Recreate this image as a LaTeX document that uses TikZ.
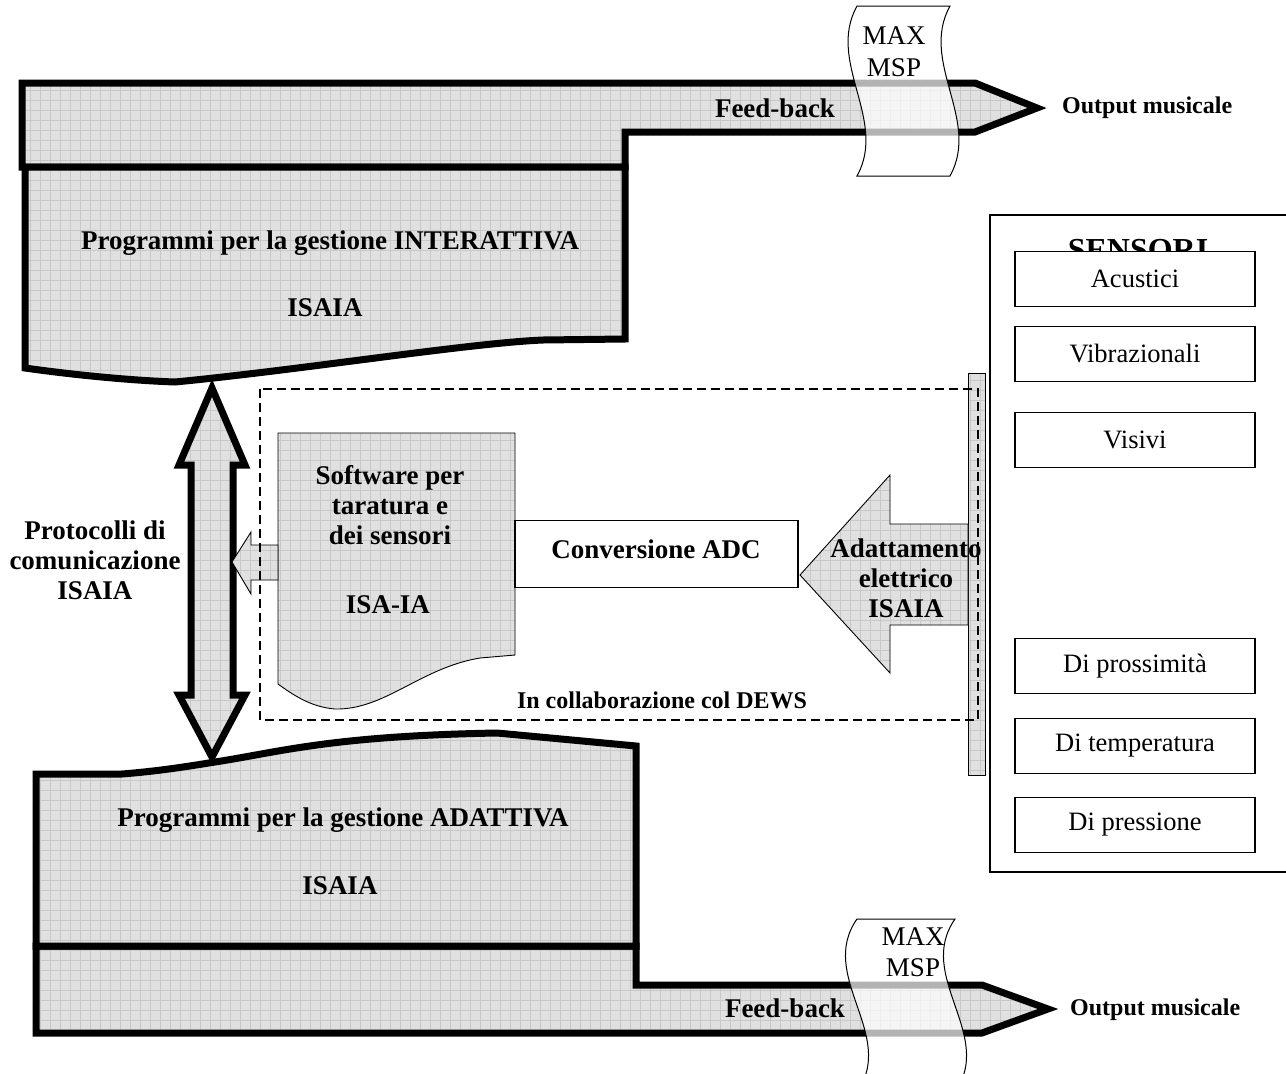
\documentclass[tikz,border=0pt]{standalone}
\usepackage{fontspec}
\setmainfont{Liberation Serif}
\definecolor{gfill}{RGB}{224,224,224}
\definecolor{gridln}{RGB}{200,200,200}
\begin{document}
\begin{tikzpicture}[x=1pt,y=-1pt,
  gridfill/.style={fill=gfill, path picture={\draw[gridln,line width=0.8pt] ([shift={(-10pt,-10pt)}]path picture bounding box.south west) grid[step=10pt] ([shift={(10pt,10pt)}]path picture bounding box.north east);}},
  thickln/.style={draw=black, line width=7pt, line join=miter, miter limit=10},
  thinln/.style={draw=black, line width=0.9pt},
  blbl/.style={font=\fontsize{27}{30}\selectfont\bfseries, align=center, inner sep=0pt},
  rlbl/.style={font=\fontsize{27}{30}\selectfont, align=center, inner sep=0pt},
  olbl/.style={font=\fontsize{24}{28}\selectfont\bfseries, inner sep=0pt},
  sbox/.style={draw, line width=1.2pt, fill=white, minimum width=240pt, minimum height=55pt, inner sep=0pt, font=\fontsize{26.5}{30}\selectfont},
  tapeshape/.style={draw=black, line width=1pt, fill=white, fill opacity=0.7}
]
\useasboundingbox (0,0) rectangle (1286,1074);
\fill[white] (0,0) rectangle (1286,1074);

% ---------- top feedback arrow and interactive box ----------
\path[gridfill, thickln] (22,83) -- (975,83) -- (1037,108) -- (975,132) -- (625,132) -- (625,167) -- (22,167) -- cycle;
\path[gridfill, thickln] (25,167) -- (625,167) -- (625,339) -- (543,340)
  .. controls (470,343) and (300,370) .. (175,382)
  .. controls (120,380) and (60,373) .. (25,368) -- cycle;
\node[blbl] (interTitle) at (330,243) {Programmi per la gestione INTERATTIVA};
\node[blbl] (interIsaia) at (325,308) {ISAIA};
\node[blbl] (fbTop) at (775,108) {Feed-back};
\node[olbl, anchor=west] (outTop) at (1062,108) {Output musicale};

% top MAX MSP tape
\path[tapeshape] (857,6) -- (950,6) .. controls (919,62) and (981,120) .. (950,176)
  -- (857,176) .. controls (888,120) and (826,62) .. (857,6) -- cycle;
\node[rlbl] (maxTop) at (894,36) {MAX};
\node[rlbl] (mspTop) at (894,68) {MSP};

% ---------- bottom adaptive box and feedback arrow ----------
\path[gridfill, thickln] (36,946) -- (636,946) -- (636,985) -- (982,985) -- (1048,1009) -- (982,1033) -- (36,1033) -- cycle;
\path[gridfill, thickln] (36,774) -- (122,774) .. controls (160,771) and (190,766) .. (215,762)
  .. controls (280,752) and (330,736) .. (497,733) -- (636,746) -- (636,946) -- (36,946) -- cycle;
\node[blbl] (adTitle) at (343,820) {Programmi per la gestione ADATTIVA};
\node[blbl] (adIsaia) at (340,886) {ISAIA};
\node[blbl] (fbBot) at (785,1008) {Feed-back};
\node[olbl, anchor=west] (outBot) at (1070,1010) {Output musicale};

% bottom MAX MSP tape
\path[tapeshape] (857,919) -- (955,919) .. controls (915,976) and (995,1035) .. (955,1092)
  -- (857,1092) .. controls (897,1035) and (817,976) .. (857,919) -- cycle;
\node[rlbl] (maxBot) at (913,937) {MAX};
\node[rlbl] (mspBot) at (913,968) {MSP};

% ---------- double arrow ----------
\path[gridfill, thickln] (212,388) -- (245,465) -- (233,465) -- (233,695) -- (245,695) -- (212,757)
  -- (179,695) -- (191,695) -- (191,465) -- (179,465) -- cycle;
\node[blbl] (proto) at (95,560) {Protocolli di\\comunicazione\\ISAIA};

% ---------- sensors frame ----------
\draw[line width=1.5pt, fill=white] (990,215) rectangle (1300,872);
\node[font=\fontsize{32}{36}\selectfont\bfseries, inner sep=0pt, anchor=base] (sensTitle) at (1138,260) {SENSORI};
\node[sbox] (acu) at (1135,279) {Acustici};
\node[sbox] (vib) at (1135,354) {Vibrazionali};
\node[sbox] (vis) at (1135,440) {Visivi};
\node[sbox] (pros) at (1135,666) {Di prossimità};
\node[sbox] (temp) at (1135,746) {Di temperatura};
\node[sbox] (pres) at (1135,825) {Di pressione};

% ---------- vertical bar ----------
\path[gridfill, thinln] (968,373) rectangle (985,775);

% ---------- software document ----------
\path[gridfill, thinln] (278,433) -- (515,433) -- (515,655) -- (480,658)
  .. controls (420,668) and (385,710) .. (335,709)
  .. controls (310,707) and (292,694) .. (278,684) -- cycle;
\node[blbl] (soft) at (390,505) {Software per\\taratura e\\dei sensori};
\node[blbl] (isaia2) at (388,605) {ISA-IA};

% small hollow arrow to the double arrow
\path[gridfill, thinln] (232,562) -- (251,532) -- (251,545) -- (278,545) -- (278,580) -- (251,580) -- (251,594) -- cycle;

% ---------- ADC conversion ----------
\node[draw, line width=1.2pt, fill=white, minimum width=283pt, minimum height=67pt, inner sep=0pt] (adc) at (656.5,554) {};
\node[blbl] (adcText) at (656,549) {Conversione ADC};

% ---------- adaptation arrow ----------
\path[gridfill, thinln] (800,575) -- (890,475) -- (890,524) -- (968,524) -- (968,625) -- (890,625) -- (890,673) -- cycle;

% ---------- dashed box ----------
\draw[line width=1.5pt, dash pattern=on 9pt off 5pt] (260,389) rectangle (978,720);
\node[olbl] (dews) at (662,700) {In collaborazione col DEWS};

\node[blbl] (adapt) at (906,578) {Adattamento\\elettrico\\ISAIA};
\end{tikzpicture}
\end{document}
